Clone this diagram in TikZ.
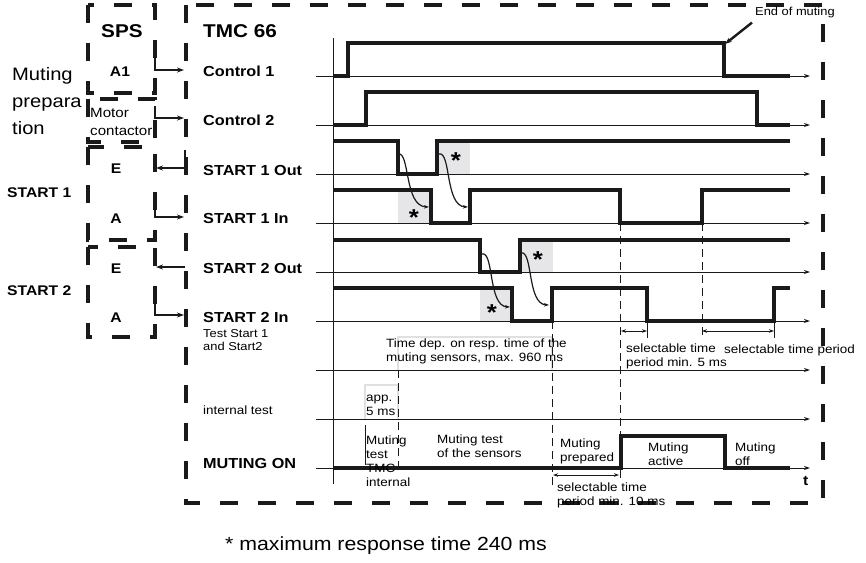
\documentclass[tikz,border=0pt]{standalone}
\usepackage{fontspec}
\setmainfont{Liberation Sans}[FakeStretch=1.12]
\usetikzlibrary{arrows.meta, positioning}
\definecolor{ink}{HTML}{1A1A1A}
\definecolor{wash}{HTML}{E6E6E8}
\definecolor{frame}{HTML}{E0E0E0}
\tikzset{
  box/.style={ink, line width=3.5pt, dash pattern=on 18pt off 20pt},
  sig/.style={ink, line width=3.1pt, line join=miter},
  axis/.style={ink, line width=1pt, -{Stealth[length=6pt,width=4pt]}},
  guide/.style={ink, line width=0.9pt, dash pattern=on 8pt off 5pt},
  span/.style={ink, line width=0.9pt, {Stealth[length=5pt,width=3.5pt]}-{Stealth[length=5pt,width=3.5pt]}},
  curv/.style={ink, line width=1.2pt, -{Stealth[length=5pt,width=3.5pt]}},
  conn/.style={ink, line width=2.2pt, -{Stealth[length=7pt,width=5pt]}},
  head/.style={font=\bfseries\fontsize{18.5}{20}\selectfont, anchor=base west, inner sep=0pt},
  siglab/.style={font=\bfseries\fontsize{14.5}{16}\selectfont, anchor=base west, inner sep=0pt},
  pin/.style={font=\bfseries\fontsize{14}{16}\selectfont, anchor=base, inner sep=0pt},
  note/.style={font=\fontsize{12}{14}\selectfont, align=left, anchor=base west, inner sep=0pt},
  star/.style={font=\bfseries\fontsize{23}{23}\selectfont, anchor=north, inner sep=0pt},
}

\begin{document}
\begin{tikzpicture}[x=1pt, y=-1pt]
  \useasboundingbox (0,0) rectangle (866,562);
  % frames
  \draw[box] (186,5) rectangle (823,503);
  \foreach \t/\b in {5/93, 99/142, 147/240, 247/337}
    \draw[box] (88,\t) rectangle (155,\b);

  % left side (multi-line nodes sit on their last baseline)
  \node[head] (sps) at (101,37) {SPS};
  \node[head] (tmc) at (203,37) {TMC 66};
  \node[font=\fontsize{18}{27}\selectfont, align=left, anchor=base west, inner sep=0pt] (prep) at (12,134) {Muting\\prepara\\tion};
  \node[font=\fontsize{13.5}{18}\selectfont, align=left, anchor=base west, inner sep=0pt] (motor) at (90,135) {Motor\\contactor};
  \node[pin, anchor=base west] (st1) at (7,197) {START 1};
  \node[pin, anchor=base west] (st2) at (7,295) {START 2};
  \node[pin] (a1) at (120,76) {A1};
  \node[pin] (e1) at (116,173) {E};
  \node[pin] (a2) at (116,223) {A};
  \node[pin] (e2) at (116,273) {E};
  \node[pin] (a3) at (116,322) {A};

  % SPS -> TMC
  \foreach \y/\up [count=\i] in {70/57, 118/106, 217/200, 315/299} {
    \coordinate (src\i) at (155,\up);
    \coordinate (dst\i) at (184,\y);
    \draw[conn] (src\i) |- (dst\i);
  }
  \coordinate (fb1) at (185,150);
  \coordinate (sp1) at (156,168);
  \draw[conn] (fb1) |- (sp1);
  \coordinate (fb2) at (185,267);
  \coordinate (sp2) at (156,267);
  \draw[conn] (fb2) -- (sp2);

  % signal names
  \foreach \y/\n/\txt in {76/c1/Control 1, 125/c2/Control 2, 175/s1o/START 1 Out, 223/s1i/START 1 In,
                          273/s2o/START 2 Out, 322/s2i/START 2 In, 468/mon/MUTING ON}
    \node[siglab] (\n) at (203,\y) {\txt};
  \node[note, font=\fontsize{11.5}{13}\selectfont] (test) at (203,350) {Test Start 1\\and Start2};
  \node[note] (itest) at (203,414) {internal test};

  % response windows
  \foreach \xa/\ya in {437/141, 398/190, 520/240, 480/288}
    \fill[wash] (\xa,\ya) rectangle +(33,33);
  \draw[frame, line width=2.4pt] (398,370) |- (552,337) -- (552,370);
  \draw[frame, line width=2.4pt] (365,419) |- (398,385) -- (398,419);

  % time axes
  \draw[ink, line width=1pt] (333,38) -- (333,484);
  \foreach \y in {76,125,174,223,272,321,370,419,468}
    \draw[axis] (316,\y) -- (810,\y);

  % signals
  \draw[sig] (333,76) -| (348,43) -| (724,76) -- (790,76);
  \draw[sig] (333,125) -| (366,92) -| (757,125) -- (790,125);
  \draw[sig] (333,141) -| (398,174) -| (437,141) -- (790,141);
  \draw[sig] (333,190) -| (431,223) -| (470,190) -| (620,223) -| (702,190) -- (790,190);
  \draw[sig] (333,240) -| (480,272) -| (520,240) -- (790,240);
  \draw[sig] (333,288) -| (512,321) -| (552,288) -| (647,321) -| (774,288) -- (790,288);
  \draw[sig] (333,468) -| (621,436) -| (725,468) -- (790,468);

  % response arrows
  \draw[curv] (398,154) .. controls (410,151) and (404,206) .. (429,207);
  \draw[curv] (439,154) .. controls (451,151) and (445,206) .. (468,207);
  \draw[curv] (482,254) .. controls (494,251) and (488,306) .. (510,307);
  \draw[curv] (521,253) .. controls (533,250) and (527,304) .. (549,305);
  \foreach \x/\y in {456/152, 414/209, 538/251, 492/304}
    \node[star] at (\x,\y) {*};

  % guides and periods
  \draw[guide] (620,223) -- (620,482);
  \draw[guide] (702,223) -- (702,335);
  \draw[guide] (552,321) -- (552,488);
  \draw[guide] (398,370) -- (398,470);
  \draw[ink, line width=0.9pt] (365,425) -- (365,465);
  \draw[ink, line width=0.9pt] (647,321) -- (647,338);
  \draw[ink, line width=0.9pt] (774,321) -- (774,338);
  \draw[span] (621,331) -- (647,331);
  \draw[span] (702,331) -- (774,331);
  \draw[span] (553,475) -- (619,475);

  % notes
  \node[note] (tdep) at (386,361) {Time dep. on resp. time of the\\muting sensors, max. 960 ms};
  \node[note] (app) at (366,415) {app.\\5 ms};
  \node[note] (sel5) at (626,366) {selectable time\\period min. 5 ms};
  \node[note] (selp) at (724,353) {selectable time period};
  \node[note] (sel10) at (557,505) {selectable time\\period min. 10 ms};
  \node[note] (mtmc) at (366,486) {Muting\\test\\TMC\\internal};
  \node[note] (msens) at (437,457) {Muting test\\of the sensors};
  \node[note] (mprep) at (560,461) {Muting\\prepared};
  \node[note] (mact) at (648,465) {Muting\\active};
  \node[note] (moff) at (735,465) {Muting\\off};
  \node[pin, anchor=base west] (t) at (803,485) {t};

  % end of muting
  \node[note, font=\fontsize{11.5}{13}\selectfont] (eom) at (755,15) {End of muting};
  \coordinate (eomtip) at (725,44);
  \draw[conn, line width=2.4pt] ([xshift=-3pt,yshift=-5pt]eom.south west) -- (eomtip);

  \node[font=\fontsize{19}{21}\selectfont, anchor=base west, inner sep=0pt] (foot) at (225,550) {* maximum response time 240 ms};
\end{tikzpicture}
\end{document}
